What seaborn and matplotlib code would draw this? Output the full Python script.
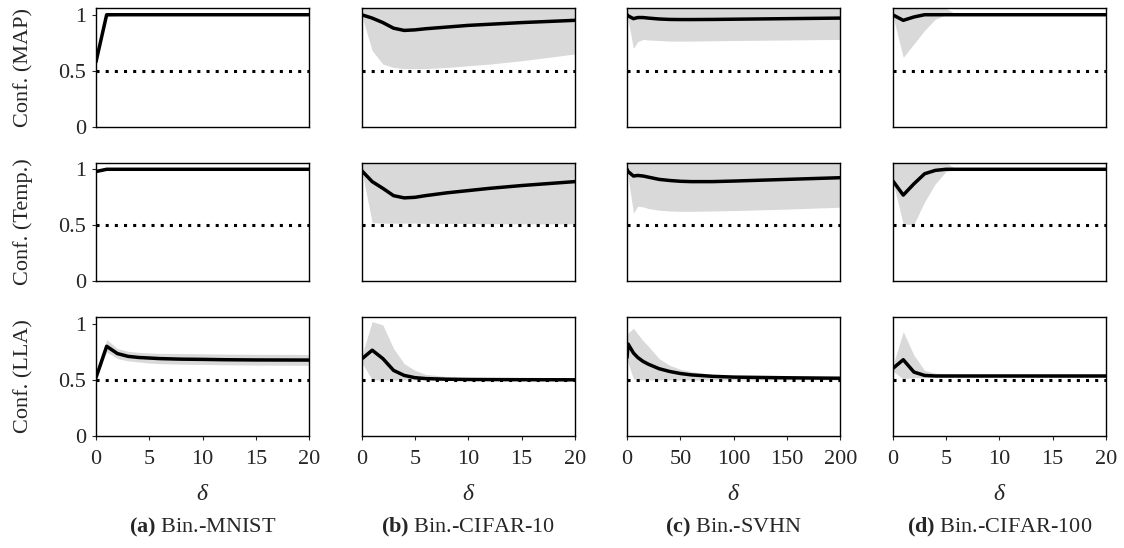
# ================== confidence vs delta, 3 methods x 4 datasets ==================

import matplotlib
matplotlib.use("Agg")
import matplotlib.pyplot as plt
import seaborn as sns
import pandas as pd

# ================== data ==================

x_small = [0, 1, 2, 3, 4, 5, 6, 8, 10, 12, 15, 20]
x_svhn = [0, 1, 6, 10, 15, 20, 30, 40, 50, 60, 80, 100, 150, 200]

# Bin.-MNIST
mnist_map_mean = [0.58, 1.0, 1.0, 1.0, 1.0, 1.0, 1.0, 1.0, 1.0, 1.0, 1.0, 1.0]
mnist_map_lo = [0.57, 0.98, 0.995, 1.0, 1.0, 1.0, 1.0, 1.0, 1.0, 1.0, 1.0, 1.0]
mnist_map_hi = [0.59, 1.02, 1.005, 1.0, 1.0, 1.0, 1.0, 1.0, 1.0, 1.0, 1.0, 1.0]
mnist_temp_mean = [0.98, 1.0, 1.0, 1.0, 1.0, 1.0, 1.0, 1.0, 1.0, 1.0, 1.0, 1.0]
mnist_temp_lo = [0.975, 0.995, 1.0, 1.0, 1.0, 1.0, 1.0, 1.0, 1.0, 1.0, 1.0, 1.0]
mnist_temp_hi = [0.985, 1.005, 1.0, 1.0, 1.0, 1.0, 1.0, 1.0, 1.0, 1.0, 1.0, 1.0]
mnist_lla_mean = [0.52, 0.80, 0.735, 0.71, 0.70, 0.695, 0.69, 0.685, 0.683, 0.68, 0.678, 0.677]
mnist_lla_lo = [0.51, 0.75, 0.69, 0.67, 0.66, 0.65, 0.645, 0.64, 0.638, 0.635, 0.632, 0.63]
mnist_lla_hi = [0.53, 0.86, 0.78, 0.755, 0.745, 0.74, 0.737, 0.735, 0.733, 0.73, 0.728, 0.727]

# Bin.-CIFAR-10
c10_map_mean = [1.0, 0.97, 0.93, 0.88, 0.86, 0.865, 0.875, 0.89, 0.905, 0.915, 0.93, 0.95]
c10_map_lo = [1.0, 0.68, 0.56, 0.53, 0.52, 0.52, 0.52, 0.53, 0.545, 0.56, 0.59, 0.65]
c10_map_hi = [1.1] * 12
c10_temp_mean = [0.99, 0.89, 0.83, 0.765, 0.745, 0.75, 0.765, 0.79, 0.81, 0.83, 0.855, 0.89]
c10_temp_lo = [1.0, 0.525, 0.52, 0.52, 0.52, 0.52, 0.518, 0.517, 0.516, 0.515, 0.514, 0.513]
c10_temp_hi = [1.1] * 12
c10_lla_mean = [0.685, 0.765, 0.69, 0.585, 0.54, 0.52, 0.512, 0.506, 0.504, 0.503, 0.502, 0.501]
c10_lla_lo = [0.66, 0.50, 0.50, 0.50, 0.50, 0.50, 0.50, 0.50, 0.50, 0.50, 0.50, 0.50]
c10_lla_hi = [0.71, 1.02, 0.99, 0.78, 0.645, 0.585, 0.55, 0.53, 0.52, 0.515, 0.51, 0.507]

# Bin.-SVHN
svhn_map_mean = [1.0, 0.99, 0.965, 0.975, 0.975, 0.97, 0.962, 0.958, 0.957, 0.957, 0.958, 0.96, 0.965, 0.97]
svhn_map_lo = [1.0, 0.95, 0.70, 0.76, 0.78, 0.775, 0.77, 0.765, 0.765, 0.765, 0.768, 0.77, 0.775, 0.78]
svhn_map_hi = [1.1] * 14
svhn_temp_mean = [1.0, 0.98, 0.94, 0.945, 0.94, 0.93, 0.91, 0.90, 0.893, 0.89, 0.89, 0.895, 0.91, 0.925]
svhn_temp_lo = [1.0, 0.93, 0.61, 0.67, 0.665, 0.65, 0.635, 0.628, 0.625, 0.625, 0.628, 0.632, 0.645, 0.662]
svhn_temp_hi = [1.1] * 14
svhn_lla_mean = [0.70, 0.82, 0.74, 0.70, 0.665, 0.64, 0.60, 0.575, 0.557, 0.545, 0.532, 0.525, 0.519, 0.515]
svhn_lla_lo = [0.70, 0.65, 0.51, 0.50, 0.50, 0.50, 0.50, 0.50, 0.50, 0.50, 0.50, 0.50, 0.50, 0.50]
svhn_lla_hi = [0.89, 0.92, 0.96, 0.91, 0.85, 0.80, 0.69, 0.63, 0.595, 0.575, 0.548, 0.535, 0.527, 0.522]

# Bin.-CIFAR-100
c100_map_mean = [1.0, 0.95, 0.98, 1.0, 1.0, 1.0, 1.0, 1.0, 1.0, 1.0, 1.0, 1.0]
c100_map_lo = [1.0, 0.62, 0.74, 0.86, 0.96, 1.0, 1.0, 1.0, 1.0, 1.0, 1.0, 1.0]
c100_map_hi = [1.1, 1.1, 1.1, 1.1, 1.1, 1.06, 1.0, 1.0, 1.0, 1.0, 1.0, 1.0]
c100_temp_mean = [0.90, 0.77, 0.87, 0.96, 0.99, 1.0, 1.0, 1.0, 1.0, 1.0, 1.0, 1.0]
c100_temp_lo = [0.90, 0.51, 0.51, 0.71, 0.87, 0.98, 1.0, 1.0, 1.0, 1.0, 1.0, 1.0]
c100_temp_hi = [1.1, 1.1, 1.1, 1.1, 1.1, 1.06, 1.0, 1.0, 1.0, 1.0, 1.0, 1.0]
c100_lla_mean = [0.60, 0.68, 0.57, 0.54, 0.535, 0.535, 0.535, 0.535, 0.535, 0.535, 0.535, 0.535]
c100_lla_lo = [0.58, 0.51, 0.52, 0.52, 0.525, 0.525, 0.525, 0.525, 0.525, 0.525, 0.525, 0.525]
c100_lla_hi = [0.62, 0.93, 0.72, 0.585, 0.56, 0.555, 0.55, 0.55, 0.55, 0.55, 0.55, 0.55]

methods = ["MAP", "Temp.", "LLA"]
captions = [r"$\mathbf{(a)}$ Bin.-MNIST", r"$\mathbf{(b)}$ Bin.-CIFAR-10",
            r"$\mathbf{(c)}$ Bin.-SVHN", r"$\mathbf{(d)}$ Bin.-CIFAR-100"]
x_ticks = [[0, 5, 10, 15, 20], [0, 5, 10, 15, 20], [0, 50, 100, 150, 200], [0, 5, 10, 15, 20]]
x_grids = [x_small, x_small, x_svhn, x_small]

curves = [
    [(mnist_map_mean, mnist_map_lo, mnist_map_hi),
     (c10_map_mean, c10_map_lo, c10_map_hi),
     (svhn_map_mean, svhn_map_lo, svhn_map_hi),
     (c100_map_mean, c100_map_lo, c100_map_hi)],
    [(mnist_temp_mean, mnist_temp_lo, mnist_temp_hi),
     (c10_temp_mean, c10_temp_lo, c10_temp_hi),
     (svhn_temp_mean, svhn_temp_lo, svhn_temp_hi),
     (c100_temp_mean, c100_temp_lo, c100_temp_hi)],
    [(mnist_lla_mean, mnist_lla_lo, mnist_lla_hi),
     (c10_lla_mean, c10_lla_lo, c10_lla_hi),
     (svhn_lla_mean, svhn_lla_lo, svhn_lla_hi),
     (c100_lla_mean, c100_lla_lo, c100_lla_hi)],
]

# ================== style ==================

sns.set_style("white")
plt.rcParams["font.family"] = ["Liberation Serif", "DejaVu Serif"]
plt.rcParams["mathtext.fontset"] = "custom"
plt.rcParams["mathtext.rm"] = "Liberation Serif"
plt.rcParams["mathtext.it"] = "Liberation Serif:italic"
plt.rcParams["mathtext.bf"] = "Liberation Serif:bold"
plt.rcParams["font.size"] = 16

fig, axes = plt.subplots(3, 4, figsize=(11.24, 5.48), dpi=100)
fig.subplots_adjust(left=0.0854, right=0.984, bottom=0.2044, top=0.9854,
                    wspace=0.244, hspace=0.30)

# ================== plot ==================

for i in range(3):
    for j in range(4):
        ax = axes[i, j]
        mean, lo, hi = curves[i][j]
        df = pd.DataFrame({"delta": x_grids[j], "conf": mean, "lo": lo, "hi": hi})
        ax.fill_between(df["delta"], df["lo"], df["hi"], color="#d9d9d9", lw=0, zorder=1)
        sns.lineplot(data=df, x="delta", y="conf", ax=ax, color="black", lw=2.5, zorder=3)
        ax.axhline(0.5, color="black", ls=(0, (1, 2)), lw=2.2, zorder=2)

        ax.set_xlim(x_ticks[j][0], x_ticks[j][-1])
        ax.set_ylim(0, 1.06)
        ax.set_xticks(x_ticks[j])
        ax.set_yticks([0, 0.5, 1])
        ax.set_yticklabels(["0", "0.5", "1"])
        for s in ax.spines.values():
            s.set_color("black")
            s.set_linewidth(1.0)

        if j == 0:
            ax.set_ylabel("Conf. (" + methods[i] + ")", labelpad=18, fontsize=16)
            ax.tick_params(axis="y", left=True, length=3, width=0.8, pad=4, labelsize=16)
        else:
            ax.set_ylabel("")
            ax.tick_params(axis="y", left=False, labelleft=False)

        if i == 2:
            ax.set_xlabel(r"$\delta$", labelpad=11, fontsize=17)
            ax.tick_params(axis="x", bottom=True, length=3, width=0.8, pad=7, labelsize=16)
        else:
            ax.set_xlabel("")
            ax.tick_params(axis="x", bottom=False, labelbottom=False)

for j in range(4):
    pos = axes[2, j].get_position()
    fig.text((pos.x0 + pos.x1) / 2, 0.037, captions[j], ha="center", va="center", fontsize=16)

plt.savefig("out.png", dpi=100)
